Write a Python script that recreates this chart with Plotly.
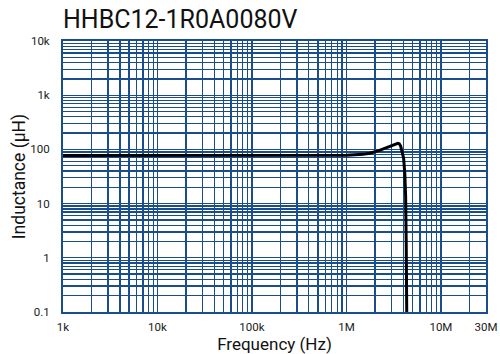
import plotly.graph_objects as go

# Data
freq_hz = [1e3, 1e4, 1e5, 5e5, 1.0e6, 1.5e6, 1.77e6, 2.2e6, 2.55e6, 3.0e6, 3.3e6,
           3.5e6, 3.62e6, 3.75e6, 3.84e6, 3.94e6, 4.03e6, 4.15e6, 4.23e6, 4.29e6, 4.33e6, 4.36e6]
inductance_uh = [77, 77, 77, 77.5, 78, 81, 85, 95, 105, 118, 126,
                 129, 127, 115, 97, 82, 69, 35, 14, 2, 0.1, 0.05]

x_tick_vals = [1e3, 1e4, 1e5, 1e6, 1e7, 3e7]
x_tick_text = ["1k", "10k", "100k", "1M", "10M", "30M"]
y_tick_vals = [0.1, 1, 10, 100, 1e3, 1e4]
y_tick_text = ["0.1", "1", "10", "100", "1k", "10k"]

title_text = "HHBC12-1R0A0080V"
x_title = "Frequency (Hz)"
y_title = "Inductance (μH)"

grid_color = "#1a4d8c"
font_family = "Roboto, 'Liberation Sans', sans-serif"

# grid line positions: decades + 2..9 minors
def minor_grid(lo_exp, hi_exp, upper):
    vals = []
    for e in range(lo_exp, hi_exp + 1):
        for m in range(1, 10):
            v = m * 10 ** e
            if v <= upper * 1.0001:
                vals.append(v)
    return vals

x_grid = minor_grid(3, 7, 3e7)
y_grid = minor_grid(-1, 4, 1e4)

def labels(grid, vals, texts):
    out = []
    for g in grid:
        t = ""
        for v, s in zip(vals, texts):
            if abs(g - v) / v < 1e-6:
                t = s
        out.append(t)
    return out

fig = go.Figure()
fig.add_trace(go.Scatter(
    x=freq_hz, y=inductance_uh, mode="lines",
    line=dict(color="#000000", width=3),
    showlegend=False, hoverinfo="skip", cliponaxis=True,
))

fig.update_layout(
    width=500, height=354,
    margin=dict(l=63, r=14, t=41, b=42),
    paper_bgcolor="white", plot_bgcolor="white",
    font=dict(family=font_family, color="#222222", size=11),
    annotations=[dict(
        text=title_text, xref="paper", yref="paper", x=0, y=1,
        xanchor="left", yanchor="bottom", yshift=5, xshift=-2, showarrow=False,
        font=dict(size=25, color="#111111", family=font_family),
    )],
)

fig.update_xaxes(
    type="log", range=[3, 7.47712], automargin=False,
    tickmode="array", tickvals=x_grid, ticktext=labels(x_grid, x_tick_vals, x_tick_text),
    showgrid=True, gridcolor=grid_color, gridwidth=1.3,
    showline=True, linecolor=grid_color, linewidth=2, mirror=True,
    ticks="", zeroline=False, ticklabelstandoff=3,
    tickfont=dict(size=11.5, color="#1a1a1a"),
    title=dict(text=x_title, font=dict(size=17, color="#111111"), standoff=0),
)
fig.update_yaxes(
    type="log", range=[-1, 4], automargin=False,
    tickmode="array", tickvals=y_grid, ticktext=labels(y_grid, y_tick_vals, y_tick_text),
    showgrid=True, gridcolor=grid_color, gridwidth=1.3,
    showline=True, linecolor=grid_color, linewidth=2, mirror=True,
    ticks="", zeroline=False, ticklabelstandoff=9,
    tickfont=dict(size=11.5, color="#1a1a1a"),
    title=dict(text=y_title, font=dict(size=17.5, color="#111111"), standoff=0),
)

fig.write_html(
    "out.html",
    config={"displayModeBar": False, "staticPlot": True},
    post_script="document.body.style.margin='0';document.body.style.padding='0';",
)
